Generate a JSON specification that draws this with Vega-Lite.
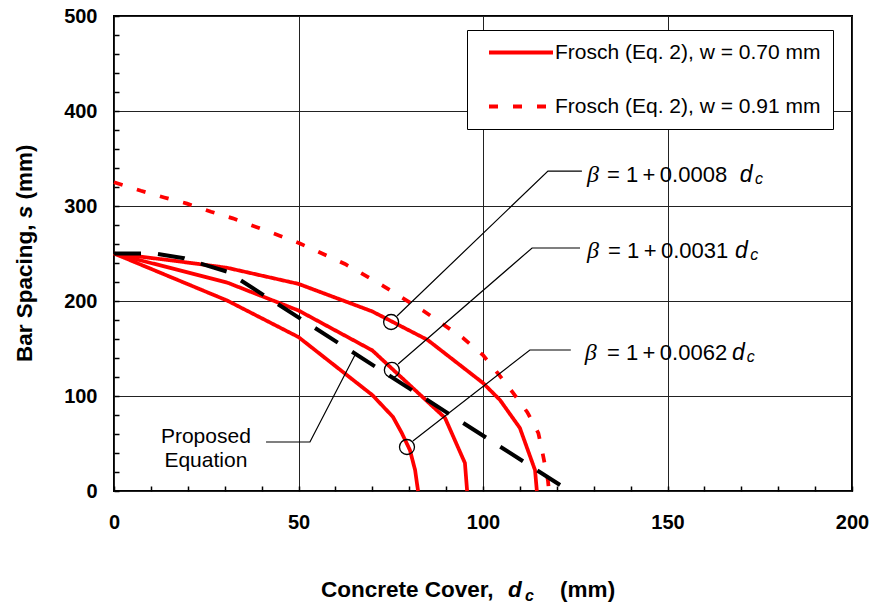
{
  "$schema": "https://vega.github.io/schema/vega-lite/v6.json",
  "autosize": {"type": "none"},
  "width": 738,
  "height": 475,
  "padding": {"left": 114, "top": 16, "right": 18, "bottom": 114},
  "background": "white",
  "config": {
    "view": {"stroke": "black", "strokeWidth": 2},
    "axis": {
      "domain": false,
      "labelFont": "Liberation Sans",
      "labelFontWeight": "bold",
      "labelFontSize": 20,
      "labelColor": "black",
      "labelFlush": false,
      "labelOverlap": false,
      "tickColor": "black",
      "tickWidth": 1.5,
      "tickSize": -5,
      "tickCount": 1000,
      "gridColor": "#222222",
      "gridWidth": 1,
      "title": null
    }
  },
  "layer": [
    {
      "data": {"values": [
        {"curve": "A", "series": "Frosch (Eq. 2), w = 0.70 mm", "x": 0, "y": 250},
        {"curve": "A", "series": "Frosch (Eq. 2), w = 0.70 mm", "x": 15, "y": 243},
        {"curve": "A", "series": "Frosch (Eq. 2), w = 0.70 mm", "x": 30.6, "y": 235},
        {"curve": "A", "series": "Frosch (Eq. 2), w = 0.70 mm", "x": 50, "y": 218},
        {"curve": "A", "series": "Frosch (Eq. 2), w = 0.70 mm", "x": 70, "y": 189},
        {"curve": "A", "series": "Frosch (Eq. 2), w = 0.70 mm", "x": 85, "y": 159},
        {"curve": "A", "series": "Frosch (Eq. 2), w = 0.70 mm", "x": 100, "y": 113.7},
        {"curve": "A", "series": "Frosch (Eq. 2), w = 0.70 mm", "x": 104.6, "y": 95.8},
        {"curve": "A", "series": "Frosch (Eq. 2), w = 0.70 mm", "x": 110, "y": 66.3},
        {"curve": "A", "series": "Frosch (Eq. 2), w = 0.70 mm", "x": 114.1, "y": 22},
        {"curve": "A", "series": "Frosch (Eq. 2), w = 0.70 mm", "x": 114.6, "y": 0},
        {"curve": "B", "series": "Frosch (Eq. 2), w = 0.70 mm", "x": 0, "y": 250},
        {"curve": "B", "series": "Frosch (Eq. 2), w = 0.70 mm", "x": 30.6, "y": 219.5},
        {"curve": "B", "series": "Frosch (Eq. 2), w = 0.70 mm", "x": 50, "y": 190},
        {"curve": "B", "series": "Frosch (Eq. 2), w = 0.70 mm", "x": 70, "y": 148},
        {"curve": "B", "series": "Frosch (Eq. 2), w = 0.70 mm", "x": 89.7, "y": 77},
        {"curve": "B", "series": "Frosch (Eq. 2), w = 0.70 mm", "x": 95.1, "y": 29.5},
        {"curve": "B", "series": "Frosch (Eq. 2), w = 0.70 mm", "x": 95.7, "y": 0},
        {"curve": "C", "series": "Frosch (Eq. 2), w = 0.70 mm", "x": 0, "y": 250},
        {"curve": "C", "series": "Frosch (Eq. 2), w = 0.70 mm", "x": 30.6, "y": 200.6},
        {"curve": "C", "series": "Frosch (Eq. 2), w = 0.70 mm", "x": 50, "y": 162},
        {"curve": "C", "series": "Frosch (Eq. 2), w = 0.70 mm", "x": 70, "y": 101},
        {"curve": "C", "series": "Frosch (Eq. 2), w = 0.70 mm", "x": 75.6, "y": 78},
        {"curve": "C", "series": "Frosch (Eq. 2), w = 0.70 mm", "x": 78, "y": 61},
        {"curve": "C", "series": "Frosch (Eq. 2), w = 0.70 mm", "x": 80.2, "y": 43},
        {"curve": "C", "series": "Frosch (Eq. 2), w = 0.70 mm", "x": 81.6, "y": 22},
        {"curve": "C", "series": "Frosch (Eq. 2), w = 0.70 mm", "x": 82.4, "y": 0},
        {"curve": "D", "series": "Frosch (Eq. 2), w = 0.91 mm", "x": 0, "y": 325},
        {"curve": "D", "series": "Frosch (Eq. 2), w = 0.91 mm", "x": 7.3, "y": 316},
        {"curve": "D", "series": "Frosch (Eq. 2), w = 0.91 mm", "x": 13.6, "y": 309},
        {"curve": "D", "series": "Frosch (Eq. 2), w = 0.91 mm", "x": 19.8, "y": 302.5},
        {"curve": "D", "series": "Frosch (Eq. 2), w = 0.91 mm", "x": 26.3, "y": 294},
        {"curve": "D", "series": "Frosch (Eq. 2), w = 0.91 mm", "x": 32.2, "y": 287},
        {"curve": "D", "series": "Frosch (Eq. 2), w = 0.91 mm", "x": 38.5, "y": 278},
        {"curve": "D", "series": "Frosch (Eq. 2), w = 0.91 mm", "x": 44.7, "y": 269},
        {"curve": "D", "series": "Frosch (Eq. 2), w = 0.91 mm", "x": 50.4, "y": 260.5},
        {"curve": "D", "series": "Frosch (Eq. 2), w = 0.91 mm", "x": 56.4, "y": 250},
        {"curve": "D", "series": "Frosch (Eq. 2), w = 0.91 mm", "x": 62.6, "y": 239},
        {"curve": "D", "series": "Frosch (Eq. 2), w = 0.91 mm", "x": 72.9, "y": 216},
        {"curve": "D", "series": "Frosch (Eq. 2), w = 0.91 mm", "x": 83.7, "y": 190},
        {"curve": "D", "series": "Frosch (Eq. 2), w = 0.91 mm", "x": 94.6, "y": 161},
        {"curve": "D", "series": "Frosch (Eq. 2), w = 0.91 mm", "x": 100, "y": 143},
        {"curve": "D", "series": "Frosch (Eq. 2), w = 0.91 mm", "x": 104, "y": 124},
        {"curve": "D", "series": "Frosch (Eq. 2), w = 0.91 mm", "x": 108, "y": 104},
        {"curve": "D", "series": "Frosch (Eq. 2), w = 0.91 mm", "x": 112, "y": 83},
        {"curve": "D", "series": "Frosch (Eq. 2), w = 0.91 mm", "x": 115, "y": 61},
        {"curve": "D", "series": "Frosch (Eq. 2), w = 0.91 mm", "x": 116.3, "y": 37},
        {"curve": "D", "series": "Frosch (Eq. 2), w = 0.91 mm", "x": 117.6, "y": 11},
        {"curve": "D", "series": "Frosch (Eq. 2), w = 0.91 mm", "x": 117.8, "y": 3}
      ]},
      "mark": {"type": "line", "color": "#ff0000", "strokeWidth": 3.75},
      "encoding": {
        "x": {
          "field": "x", "type": "quantitative",
          "scale": {"domain": [0, 200], "nice": false, "zero": false},
          "axis": {
            "values": [0,10,20,30,40,50,60,70,80,90,100,110,120,130,140,150,160,170,180,190,200],
            "format": "d",
            "labelExpr": "datum.value % 50 === 0 ? datum.label : ''",
            "gridOpacity": {"condition": {"test": "datum.value % 50 === 0", "value": 1}, "value": 0},
            "labelPadding": 26
          }
        },
        "y": {
          "field": "y", "type": "quantitative",
          "scale": {"domain": [0, 500], "nice": false, "zero": false},
          "axis": {
            "values": [0,20,40,60,80,100,120,140,160,180,200,220,240,260,280,300,320,340,360,380,400,420,440,460,480,500],
            "format": "d",
            "labelExpr": "datum.value % 100 === 0 ? datum.label : ''",
            "gridOpacity": {"condition": {"test": "datum.value % 100 === 0", "value": 1}, "value": 0},
            "labelPadding": 22
          }
        },
        "detail": {"field": "curve"},
        "strokeDash": {
          "field": "series", "type": "nominal",
          "scale": {"domain": ["Frosch (Eq. 2), w = 0.70 mm", "Frosch (Eq. 2), w = 0.91 mm"], "range": [[1, 0], [9, 15]]},
          "legend": {
            "title": null,
            "orient": "none",
            "legendX": 353,
            "legendY": 14,
            "symbolType": "stroke",
            "symbolSize": 4096,
            "symbolStrokeWidth": 4,
            "symbolStrokeColor": "#ff0000",
            "symbolOffset": 8,
            "labelFont": "Liberation Sans",
            "labelFontSize": 21,
            "labelColor": "black",
            "labelOffset": 0,
            "labelLimit": 500,
            "clipHeight": 21,
            "rowPadding": 32,
            "padding": 12,
            "strokeColor": "black",
            "fillColor": "white",
            "cornerRadius": 0
          }
        }
      }
    },
    {
      "data": {"values": [
        {"x": 0, "y": 250},
        {"x": 11, "y": 250},
        {"x": 19, "y": 245},
        {"x": 23.3, "y": 239.5},
        {"x": 30.6, "y": 231},
        {"x": 121, "y": 6}
      ]},
      "mark": {"type": "line", "color": "black", "strokeWidth": 4, "strokeDash": [27, 17]},
      "encoding": {
        "x": {"field": "x", "type": "quantitative"},
        "y": {"field": "y", "type": "quantitative"}
      }
    },
    {
      "data": {"values": [
        {"x": 75.1, "y": 177.9},
        {"x": 75.3, "y": 127.4},
        {"x": 79.4, "y": 46.3}
      ]},
      "mark": {"type": "point", "shape": "circle", "filled": false, "stroke": "black", "strokeWidth": 1.3, "size": 225, "opacity": 1},
      "encoding": {
        "x": {"field": "x", "type": "quantitative"},
        "y": {"field": "y", "type": "quantitative"}
      }
    },
    {
      "data": {"values": [
        {"leader": 1, "x": 76.7, "y": 184.2},
        {"leader": 1, "x": 117.6, "y": 336.8},
        {"leader": 1, "x": 126.8, "y": 336.8},
        {"leader": 2, "x": 77, "y": 133.7},
        {"leader": 2, "x": 113.3, "y": 255.8},
        {"leader": 2, "x": 126.3, "y": 255.8},
        {"leader": 3, "x": 81, "y": 52.6},
        {"leader": 3, "x": 112.7, "y": 148.4},
        {"leader": 3, "x": 123.8, "y": 148.4},
        {"leader": 4, "x": 41.2, "y": 51.6},
        {"leader": 4, "x": 53.1, "y": 51.6},
        {"leader": 4, "x": 65.3, "y": 143.2}
      ]},
      "mark": {"type": "line", "color": "black", "strokeWidth": 1.2},
      "encoding": {
        "x": {"field": "x", "type": "quantitative"},
        "y": {"field": "y", "type": "quantitative"},
        "detail": {"field": "leader"}
      }
    },
    {
      "data": {"values": [
        {"x": 128.2, "y": 325.3, "t": "β"},
        {"x": 128.2, "y": 245.3, "t": "β"},
        {"x": 127.6, "y": 137.9, "t": "β"}
      ]},
      "mark": {"type": "text", "font": "Liberation Serif", "fontStyle": "italic", "fontSize": 24, "align": "left", "baseline": "alphabetic", "color": "black"},
      "encoding": {
        "x": {"field": "x", "type": "quantitative"},
        "y": {"field": "y", "type": "quantitative"},
        "text": {"field": "t"}
      }
    },
    {
      "data": {"values": [
        {"x": 133.6, "y": 325.3, "t": "= 1\u2009+\u20090.0008"},
        {"x": 133.9, "y": 245.3, "t": "= 1\u2009+\u20090.0031"},
        {"x": 133.6, "y": 137.9, "t": "= 1\u2009+\u20090.0062"}
      ]},
      "mark": {"type": "text", "font": "Liberation Sans", "fontSize": 22, "align": "left", "baseline": "alphabetic", "color": "black"},
      "encoding": {
        "x": {"field": "x", "type": "quantitative"},
        "y": {"field": "y", "type": "quantitative"},
        "text": {"field": "t"}
      }
    },
    {
      "data": {"values": [
        {"x": 169.6, "y": 325.3, "t": "d"},
        {"x": 168.3, "y": 245.3, "t": "d"},
        {"x": 167.5, "y": 137.9, "t": "d"}
      ]},
      "mark": {"type": "text", "font": "Liberation Sans", "fontStyle": "italic", "fontSize": 23, "align": "left", "baseline": "alphabetic", "color": "black"},
      "encoding": {
        "x": {"field": "x", "type": "quantitative"},
        "y": {"field": "y", "type": "quantitative"},
        "text": {"field": "t"}
      }
    },
    {
      "data": {"values": [
        {"x": 173.7, "y": 323.2, "t": "c"},
        {"x": 172.4, "y": 243.2, "t": "c"},
        {"x": 171.5, "y": 135.8, "t": "c"}
      ]},
      "mark": {"type": "text", "font": "Liberation Sans", "fontStyle": "italic", "fontSize": 16, "align": "left", "baseline": "alphabetic", "color": "black"},
      "encoding": {
        "x": {"field": "x", "type": "quantitative"},
        "y": {"field": "y", "type": "quantitative"},
        "text": {"field": "t"}
      }
    },
    {
      "data": {"values": [
        {"x": 24.9, "y": 50.5, "t": "Proposed"},
        {"x": 24.9, "y": 25.3, "t": "Equation"}
      ]},
      "mark": {"type": "text", "font": "Liberation Sans", "fontSize": 21, "align": "center", "baseline": "alphabetic", "color": "black"},
      "encoding": {
        "x": {"field": "x", "type": "quantitative"},
        "y": {"field": "y", "type": "quantitative"},
        "text": {"field": "t"}
      }
    },
    {
      "data": {"values": [
        {"x": 56.1, "y": -111.6, "t": "Concrete Cover,"},
        {"x": 120.9, "y": -111.6, "t": "(mm)"}
      ]},
      "mark": {"type": "text", "font": "Liberation Sans", "fontWeight": "bold", "fontSize": 22.5, "align": "left", "baseline": "alphabetic", "color": "black"},
      "encoding": {
        "x": {"field": "x", "type": "quantitative"},
        "y": {"field": "y", "type": "quantitative"},
        "text": {"field": "t"}
      }
    },
    {
      "data": {"values": [
        {"x": 106.8, "y": -111.6, "t": "d"}
      ]},
      "mark": {"type": "text", "font": "Liberation Sans", "fontWeight": "bold", "fontStyle": "italic", "fontSize": 22.5, "align": "left", "baseline": "alphabetic", "color": "black"},
      "encoding": {
        "x": {"field": "x", "type": "quantitative"},
        "y": {"field": "y", "type": "quantitative"},
        "text": {"field": "t"}
      }
    },
    {
      "data": {"values": [
        {"x": 111.4, "y": -115.8, "t": "c"}
      ]},
      "mark": {"type": "text", "font": "Liberation Sans", "fontWeight": "bold", "fontStyle": "italic", "fontSize": 16, "align": "left", "baseline": "alphabetic", "color": "black"},
      "encoding": {
        "x": {"field": "x", "type": "quantitative"},
        "y": {"field": "y", "type": "quantitative"},
        "text": {"field": "t"}
      }
    },
    {
      "data": {"values": [
        {"x": -22.2, "y": 135.8, "t": "Bar Spacing,"},
        {"x": -22.2, "y": 306.8, "t": "(mm)"}
      ]},
      "mark": {"type": "text", "font": "Liberation Sans", "fontWeight": "bold", "fontSize": 22.5, "angle": 270, "align": "left", "baseline": "alphabetic", "color": "black"},
      "encoding": {
        "x": {"field": "x", "type": "quantitative"},
        "y": {"field": "y", "type": "quantitative"},
        "text": {"field": "t"}
      }
    },
    {
      "data": {"values": [
        {"x": -22.2, "y": 287.2, "t": "s"}
      ]},
      "mark": {"type": "text", "font": "Liberation Sans", "fontWeight": "bold", "fontStyle": "italic", "fontSize": 22.5, "angle": 270, "align": "left", "baseline": "alphabetic", "color": "black"},
      "encoding": {
        "x": {"field": "x", "type": "quantitative"},
        "y": {"field": "y", "type": "quantitative"},
        "text": {"field": "t"}
      }
    }
  ]
}
